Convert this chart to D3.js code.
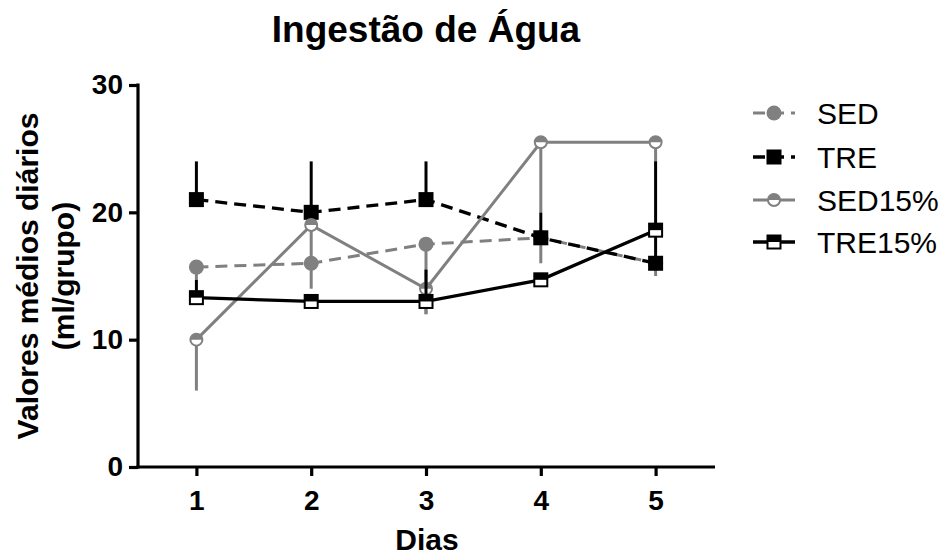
<!DOCTYPE html>
<html>
<head>
<meta charset="utf-8">
<script src="https://cdn.jsdelivr.net/npm/d3@7"></script>
<style>
  html, body { margin: 0; padding: 0; background: #fff; }
  svg { display: block; font-family: "Liberation Sans", Arial, sans-serif; }
</style>
</head>
<body>
<svg id="chart" width="948" height="556"></svg>
<script>
// ---- data ----
const days = [1, 2, 3, 4, 5];
const yTicks = [0, 10, 20, 30];
const seriesNames = ["SED", "TRE", "SED15%", "TRE15%"];
const sedMean = [15.7, 16.0, 17.5, 18.0, 16.0];
const sedErr = [1.0, 2.0, 5.5, 2.0, 1.0];      // drawn below
const treMean = [21.0, 20.0, 21.0, 18.0, 16.0];
const treErr = [3.0, 4.0, 3.0, 2.0, 2.6];      // drawn above
const sed15Mean = [10.0, 19.0, 14.0, 25.5, 25.5];
const sed15Err = [4.0, 3.0, 2.0, 5.5, 1.6];    // drawn below
const tre15Mean = [13.3, 13.0, 13.0, 14.7, 18.6];
const tre15Err = [1.4, 0.4, 2.5, 0.4, 5.4];    // drawn above

const GRAY = "#808080";
const series = [
  { name: seriesNames[0], mean: sedMean, err: sedErr, dir: -1, color: GRAY, dash: "12,7", shape: "circle", half: false, lw: 3 },
  { name: seriesNames[1], mean: treMean, err: treErr, dir: 1, color: "#000", dash: "12,7", shape: "square", half: false, lw: 3.3 },
  { name: seriesNames[2], mean: sed15Mean, err: sed15Err, dir: -1, color: GRAY, dash: null, shape: "circle", half: true, lw: 3 },
  { name: seriesNames[3], mean: tre15Mean, err: tre15Err, dir: 1, color: "#000", dash: null, shape: "square", half: true, lw: 3.3 }
];

const svg = d3.select("#chart");
const x = d3.scaleLinear().domain([0.5, 5.5]).range([139, 713]);
const y = d3.scaleLinear().domain([0, 30]).range([467, 85]);

// title
svg.append("text").attr("x", 426).attr("y", 42).attr("text-anchor", "middle")
  .attr("font-size", 37).attr("font-weight", "bold").text("Ingestão de Água");

// axes
const gx = svg.append("g").attr("transform", "translate(0,467)")
  .call(d3.axisBottom(x).tickValues(days).tickFormat(d3.format("d")).tickSize(9).tickSizeOuter(0).tickPadding(14));
const gy = svg.append("g").attr("transform", "translate(138,0)")
  .call(d3.axisLeft(y).tickValues(yTicks).tickSize(9).tickSizeOuter(0).tickPadding(6));
[gx, gy].forEach(g => {
  g.select(".domain").attr("stroke", "#000").attr("stroke-width", 3.2);
  g.selectAll(".tick line").attr("stroke", "#000").attr("stroke-width", 3.2);
  g.selectAll(".tick text").attr("fill", "#000").attr("font-size", 28).attr("font-weight", "bold")
    .attr("font-family", '"Liberation Sans", Arial, sans-serif');
});
// extend x-axis domain to meet y-axis
gx.select(".domain").attr("d", `M136.4,0H715`);
gy.select(".domain").attr("d", `M0,${y(30) - 1.5}V${y(0) + 1.6}`);

// axis titles
svg.append("text").attr("x", 427).attr("y", 550).attr("text-anchor", "middle")
  .attr("font-size", 30).attr("font-weight", "bold").text("Dias");
svg.append("text").attr("transform", "translate(38,276) rotate(-90)").attr("text-anchor", "middle")
  .attr("font-size", 30).attr("font-weight", "bold").text("Valores médios diários");
svg.append("text").attr("transform", "translate(74,276) rotate(-90)").attr("text-anchor", "middle")
  .attr("font-size", 30).attr("font-weight", "bold").text("(ml/grupo)");

function drawMarker(g, cx, cy, s) {
  if (s.shape === "circle") {
    const r = s.half ? 7 : 7.5;
    if (!s.half) {
      g.append("circle").attr("cx", cx).attr("cy", cy).attr("r", r).attr("fill", s.color);
    } else {
      g.append("circle").attr("cx", cx).attr("cy", cy).attr("r", r - 1).attr("fill", "#fff");
      g.append("path").attr("d", `M${cx - r + 1},${cy}A${r - 1},${r - 1} 0 0 1 ${cx + r - 1},${cy}Z`).attr("fill", s.color);
      g.append("circle").attr("cx", cx).attr("cy", cy).attr("r", r - 1).attr("fill", "none")
        .attr("stroke", s.color).attr("stroke-width", 2);
    }
  } else {
    const h = 7.5;
    if (!s.half) {
      g.append("rect").attr("x", cx - h).attr("y", cy - h).attr("width", 2 * h).attr("height", 2 * h).attr("fill", s.color);
    } else {
      const hh = h - 1;
      g.append("rect").attr("x", cx - hh).attr("y", cy - hh).attr("width", 2 * hh).attr("height", 2 * hh).attr("fill", "#fff");
      g.append("rect").attr("x", cx - hh).attr("y", cy - hh).attr("width", 2 * hh).attr("height", hh).attr("fill", s.color);
      g.append("rect").attr("x", cx - hh).attr("y", cy - hh).attr("width", 2 * hh).attr("height", 2 * hh).attr("fill", "none")
        .attr("stroke", s.color).attr("stroke-width", 2);
    }
  }
}

const line = d3.line().x(d => x(d.day)).y(d => y(d.v));
series.forEach(s => {
  const g = svg.append("g");
  const pts = days.map((d, i) => ({ day: d, v: s.mean[i], e: s.err[i] }));
  // error bars (one direction, no caps)
  g.selectAll("line.err").data(pts).join("line")
    .attr("x1", d => x(d.day)).attr("x2", d => x(d.day))
    .attr("y1", d => y(d.v)).attr("y2", d => y(d.v + s.dir * d.e))
    .attr("stroke", s.color).attr("stroke-width", 3);
  // connecting line
  g.append("path").datum(pts).attr("d", line).attr("fill", "none")
    .attr("stroke", s.color).attr("stroke-width", s.lw)
    .attr("stroke-dasharray", s.dash);
  pts.forEach(p => drawMarker(g, x(p.day), y(p.v), s));
});

// legend
const legY = [113, 157, 200, 242];
series.forEach((s, i) => {
  const g = svg.append("g");
  const ly = legY[i];
  g.append("line").attr("x1", 753).attr("x2", 795).attr("y1", ly).attr("y2", ly)
    .attr("stroke", s.color).attr("stroke-width", s.lw).attr("stroke-dasharray", s.dash);
  drawMarker(g, 774, ly, s);
  g.append("text").attr("x", 817).attr("y", ly).attr("dy", "0.36em")
    .attr("font-size", 30).attr("fill", "#000").text(s.name);
});
</script>
</body>
</html>
